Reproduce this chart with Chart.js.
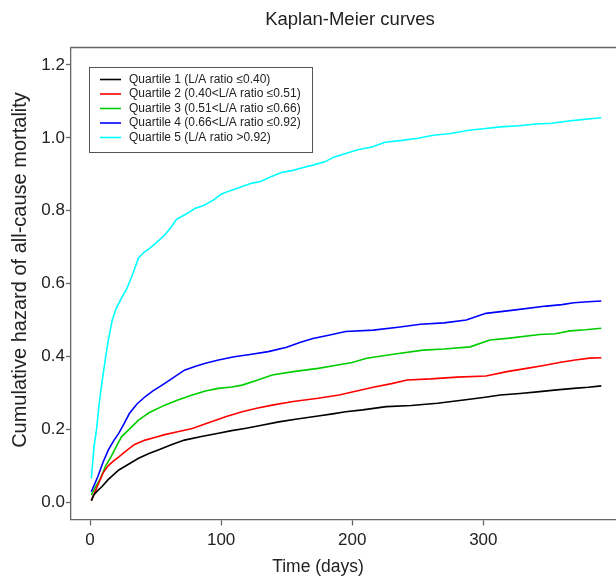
<!DOCTYPE html>
<html>
<head>
<meta charset="utf-8">
<script src="https://cdn.jsdelivr.net/npm/chart.js@4/dist/chart.umd.min.js"></script>
<style>
  html, body { margin: 0; padding: 0; background: #fff; overflow: hidden; }
  #wrap { width: 616px; height: 579px; }
</style>
</head>
<body>
<div id="wrap"><canvas id="km"></canvas></div>
<script>
// cumulative hazard, days vs value
const q1Days = [1, 3, 6, 9, 14, 22, 30, 37, 45, 52, 62, 72, 85, 98, 108, 118, 130, 144, 158, 174, 185, 195, 208, 226, 245, 265, 285, 300, 313, 328, 343, 356, 369, 380, 390]
const q1Haz = [0.003, 0.02, 0.032, 0.042, 0.062, 0.088, 0.105, 0.12, 0.133, 0.143, 0.157, 0.17, 0.18, 0.189, 0.196, 0.202, 0.21, 0.22, 0.228, 0.236, 0.242, 0.248, 0.253, 0.262, 0.265, 0.271, 0.28, 0.287, 0.294, 0.298, 0.303, 0.308, 0.312, 0.315, 0.319]

const q2Days = [1, 4, 7, 10, 14, 18, 22, 28, 34, 42, 50, 57, 66, 78, 92, 104, 116, 128, 139, 155, 174, 190, 200, 216, 230, 242, 260, 280, 302, 318, 333, 346, 358, 370, 381, 390]
const q2Haz = [0.005, 0.03, 0.055, 0.08, 0.1, 0.113, 0.124, 0.142, 0.158, 0.17, 0.178, 0.185, 0.192, 0.202, 0.22, 0.235, 0.248, 0.258, 0.266, 0.276, 0.285, 0.294, 0.302, 0.315, 0.325, 0.335, 0.338, 0.343, 0.346, 0.358, 0.367, 0.375, 0.383, 0.39, 0.395, 0.396]

const q3Days = [1, 4, 8, 12, 16, 20, 24, 30, 37, 45, 57, 67, 78, 88, 98, 108, 116, 128, 139, 155, 174, 190, 200, 211, 230, 254, 270, 290, 305, 320, 343, 355, 366, 378, 390]
const q3Haz = [0.019, 0.04, 0.065, 0.1, 0.124, 0.152, 0.179, 0.2, 0.225, 0.245, 0.266, 0.28, 0.294, 0.305, 0.312, 0.316, 0.321, 0.335, 0.349, 0.358, 0.367, 0.377, 0.383, 0.395, 0.405, 0.417, 0.42, 0.426, 0.445, 0.45, 0.46, 0.462, 0.47, 0.473, 0.477]

const q4Days = [1, 3, 6, 10, 14, 18, 22, 26, 30, 36, 42, 48, 55, 63, 72, 80, 88, 98, 110, 122, 136, 150, 160, 170, 182, 195, 216, 235, 252, 270, 287, 302, 323, 348, 360, 369, 380, 390]
const q4Haz = [0.028, 0.045, 0.07, 0.11, 0.143, 0.168, 0.189, 0.215, 0.243, 0.27, 0.289, 0.305, 0.321, 0.34, 0.362, 0.372, 0.381, 0.39, 0.399, 0.405, 0.413, 0.425, 0.438, 0.449, 0.458, 0.468, 0.472, 0.48, 0.488, 0.492, 0.5, 0.518, 0.527, 0.538, 0.542, 0.547, 0.55, 0.552]

const q5Days = [1, 3, 5, 7, 9, 12, 14, 17, 20, 24, 28, 33, 37, 41, 45, 50, 57, 62, 66, 73, 80, 87, 94, 100, 107, 115, 123, 130, 138, 146, 154, 162, 170, 179, 186, 195, 205, 215, 225, 238, 250, 262, 275, 289, 300, 313, 327, 340, 352, 365, 375, 384, 390]
const q5Haz = [0.065, 0.15, 0.2, 0.27, 0.326, 0.4, 0.445, 0.5, 0.532, 0.56, 0.585, 0.63, 0.67, 0.685, 0.695, 0.71, 0.733, 0.755, 0.776, 0.79, 0.806, 0.815, 0.829, 0.845, 0.855, 0.865, 0.875, 0.88, 0.893, 0.905, 0.91, 0.918, 0.925, 0.934, 0.947, 0.957, 0.968, 0.975, 0.988, 0.993, 0.999, 1.007, 1.012, 1.021, 1.025, 1.03, 1.033, 1.038, 1.04, 1.046, 1.05, 1.053, 1.055]

const groupLabels = [
  "Quartile 1 (L/A ratio \u22640.40)",
  "Quartile 2 (0.40<L/A ratio \u22640.51)",
  "Quartile 3 (0.51<L/A ratio \u22640.66)",
  "Quartile 4 (0.66<L/A ratio \u22640.92)",
  "Quartile 5 (L/A ratio >0.92)",
]
const xTicks = [0, 100, 200, 300]
const yTicks = [0, 0.2, 0.4, 0.6, 0.8, 1.0, 1.2]

const FONT = "'Liberation Sans', Arial, Helvetica, sans-serif"
const colors = ["#000000", "#ff0000", "#00cd00", "#0000ff", "#00ffff"]
const series = [[q1Days, q1Haz], [q2Days, q2Haz], [q3Days, q3Haz], [q4Days, q4Haz], [q5Days, q5Haz]]

const datasets = series.map(([d, h], i) => ({
  label: groupLabels[i],
  data: d.map((x, k) => ({ x: x, y: h[k] })),
  borderColor: colors[i],
  borderWidth: 1.6,
  pointRadius: 0,
  tension: 0,
  fill: false,
}))

// titles, top frame line and the boxed legend, R style
const decorations = {
  id: "decorations",
  afterDraw(chart) {
    const ctx = chart.ctx
    const a = chart.chartArea
    ctx.save()
    ctx.strokeStyle = "#666"
    ctx.lineWidth = 1.3
    ctx.beginPath()
    ctx.moveTo(a.left, a.top)
    ctx.lineTo(a.right, a.top)
    ctx.stroke()

    ctx.fillStyle = "#222"
    ctx.textAlign = "center"
    ctx.textBaseline = "middle"
    ctx.font = "18.5px " + FONT
    ctx.fillText("Kaplan-Meier curves", 350, 20)
    ctx.font = "17.5px " + FONT
    ctx.fillText("Time (days)", 318, 567)
    ctx.translate(20, 270)
    ctx.rotate(-Math.PI / 2)
    ctx.font = "20px " + FONT
    ctx.fillText("Cumulative hazard of all-cause mortality", 0, 0)
    ctx.restore()

    // legend
    ctx.save()
    const lx = a.left + 18, ly = a.top + 19.5, lw = 223, lh = 85
    ctx.fillStyle = "#fff"
    ctx.fillRect(lx, ly, lw, lh)
    ctx.strokeStyle = "#555"
    ctx.lineWidth = 1
    ctx.strokeRect(lx + 0.5, ly + 0.5, lw, lh)
    ctx.font = "12px " + FONT
    ctx.textAlign = "left"
    ctx.textBaseline = "middle"
    chart.data.datasets.forEach((ds, i) => {
      const y = ly + 12.5 + i * 14.5
      ctx.strokeStyle = ds.borderColor
      ctx.lineWidth = 1.6
      ctx.beginPath()
      ctx.moveTo(lx + 11, y)
      ctx.lineTo(lx + 32, y)
      ctx.stroke()
      ctx.fillStyle = "#222"
      ctx.fillText(ds.label, lx + 40, y)
    })
    ctx.restore()
  },
}

new Chart(document.getElementById("km"), {
  type: "line",
  data: { datasets: datasets },
  plugins: [decorations],
  options: {
    responsive: true,
    maintainAspectRatio: false,
    animation: false,
    layout: { padding: { top: 47.5, left: 0, right: 0, bottom: 0 } },
    plugins: {
      legend: { display: false },
      title: { display: false },
      tooltip: { enabled: false },
    },
    scales: {
      x: {
        type: "linear",
        min: -14.5,
        max: 401.2,
        afterBuildTicks: (s) => { s.ticks = xTicks.map((v) => ({ value: v })) },
        afterFit: (s) => { s.height = 59.5 },
        grid: { drawOnChartArea: false, tickLength: 6, tickColor: "#666", tickWidth: 1.3 },
        border: { color: "#666", width: 1.3 },
        ticks: { color: "#222", font: { family: FONT, size: 17 }, padding: 5, maxRotation: 0 },
      },
      y: {
        min: -0.048,
        max: 1.248,
        afterBuildTicks: (s) => { s.ticks = yTicks.map((v) => ({ value: v })) },
        afterFit: (s) => { s.width = 71 },
        grid: { drawOnChartArea: false, tickLength: 5, tickColor: "#666", tickWidth: 1.3 },
        border: { color: "#666", width: 1.3 },
        ticks: {
          color: "#222",
          font: { family: FONT, size: 17 },
          padding: 1,
          callback: (v) => v.toFixed(1),
        },
      },
    },
  },
})
</script>
</body>
</html>
